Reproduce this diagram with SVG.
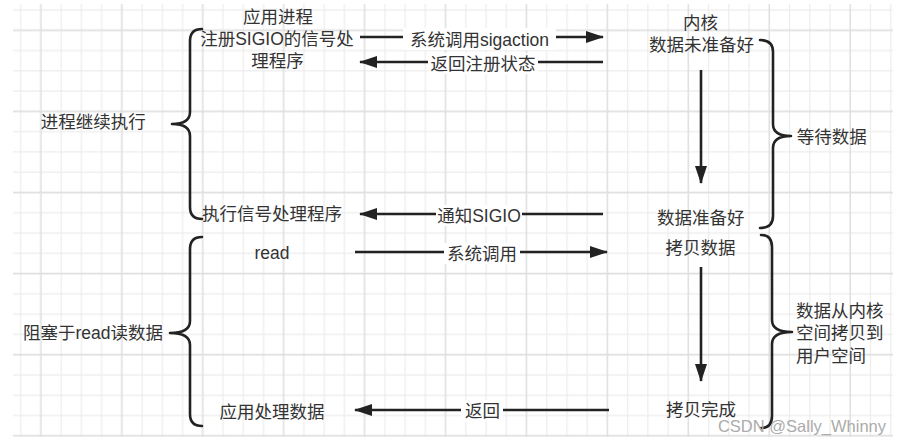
<svg xmlns="http://www.w3.org/2000/svg" width="902" height="444" viewBox="0 0 902 444">
<style>
  text { font-family: "Liberation Sans", "Noto Sans CJK SC", sans-serif; font-size: 17.5px; fill: #333; dominant-baseline: central; }
  .c { text-anchor: middle; }
  .l { text-anchor: start; }
  .brace { fill: none; stroke: #222; stroke-width: 2.6; stroke-linecap: round; stroke-linejoin: round; }
  .edge { fill: none; stroke: #222; stroke-width: 2.6; }
  .lblbg { fill: #fff; stroke: none; }
  .minor { stroke: #ececec; stroke-width: 1.2; }
  .major { stroke: #dfdfdf; stroke-width: 1.6; }
  .wm { font-size: 16.5px; fill: #ababab; text-anchor: end; dominant-baseline: auto; }
</style>
<defs>
  <pattern id="grid" patternUnits="userSpaceOnUse" x="10.7" y="0" width="80.93" height="81.1">
    <line class="minor" x1="10" y1="0" x2="10" y2="81.1"/>
    <line class="minor" x1="50.47" y1="0" x2="50.47" y2="81.1"/>
    <line class="minor" x1="70.7" y1="0" x2="70.7" y2="81.1"/>
    <line class="minor" x1="0" y1="10" x2="80.93" y2="10"/>
    <line class="minor" x1="0" y1="50.55" x2="80.93" y2="50.55"/>
    <line class="minor" x1="0" y1="70.82" x2="80.93" y2="70.82"/>
    <line class="major" x1="30.23" y1="0" x2="30.23" y2="81.1"/>
    <line class="major" x1="0" y1="30.27" x2="80.93" y2="30.27"/>
  </pattern>
  <marker id="arrow" markerUnits="userSpaceOnUse" markerWidth="18" markerHeight="12" refX="17" refY="6" orient="auto">
    <path d="M0,0 L18,6 L0,12 Z" fill="#222"/>
  </marker>
</defs>
<rect x="0" y="0" width="902" height="444" fill="#fff"/>
<rect x="13" y="4" width="880" height="433" fill="url(#grid)"/>

<g id="connectors">
  <line class="edge" x1="360" y1="37" x2="603" y2="37" marker-end="url(#arrow)"/>
  <line class="edge" x1="603" y1="62" x2="360" y2="62" marker-end="url(#arrow)"/>
  <line class="edge" x1="603" y1="214" x2="360" y2="214" marker-end="url(#arrow)"/>
  <line class="edge" x1="355" y1="252" x2="607" y2="252" marker-end="url(#arrow)"/>
  <line class="edge" x1="609" y1="410" x2="355" y2="410" marker-end="url(#arrow)"/>
  <line class="edge" x1="701" y1="70" x2="701" y2="183" marker-end="url(#arrow)"/>
  <line class="edge" x1="701" y1="267" x2="701" y2="381" marker-end="url(#arrow)"/>
  <g id="edge-labels">
    <rect class="lblbg" x="403" y="28" width="153" height="22"/>
    <text class="c" x="479.5" y="40">系统调用sigaction</text>
    <rect class="lblbg" x="428" y="53" width="110" height="21"/>
    <text class="c" x="483" y="63.5">返回注册状态</text>
    <rect class="lblbg" x="436" y="205" width="86" height="21"/>
    <text class="c" x="479" y="216">通知SIGIO</text>
    <rect class="lblbg" x="444" y="243" width="76" height="21"/>
    <text class="c" x="482" y="253.5">系统调用</text>
    <rect class="lblbg" x="461" y="400" width="42" height="21"/>
    <text class="c" x="482.5" y="411">返回</text>
  </g>
</g>

<g id="brace-left-1"><path class="brace" d="M202,29 Q190,29 190,41 L190,112 Q190,124 172,124 Q190,124 190,136 L190,207 Q190,219 202,219"/></g>
<g id="brace-left-2"><path class="brace" d="M202,237 Q190,237 190,249 L190,321 Q190,333 170,333 Q190,333 190,345 L190,414 Q190,426 202,426"/></g>
<g id="brace-right-1"><path class="brace" d="M760,40 Q773,40 773,52 L773,124 Q773,136 791,136 Q773,136 773,148 L773,216 Q773,228 760,228"/></g>
<g id="brace-right-2"><path class="brace" d="M761,235 Q772,235 772,247 L772,320 Q772,332 792,332 Q772,332 772,344 L772,416 Q772,428 761,428"/></g>

<g id="app-register">
  <text class="c" x="278" y="16.5">应用进程</text>
  <text class="c" x="277" y="39">注册SIGIO的信号处</text>
  <text class="c" x="277.5" y="60.5">理程序</text>
</g>
<g id="continue"><text class="c" x="93.3" y="122">进程继续执行</text></g>
<g id="exec-handler"><text class="c" x="272" y="214">执行信号处理程序</text></g>
<g id="kernel-notready">
  <text class="c" x="700.5" y="23">内核</text>
  <text class="c" x="701.5" y="44.5">数据未准备好</text>
</g>
<g id="data-ready"><text class="c" x="700.7" y="218">数据准备好</text></g>
<g id="wait-data"><text class="c" x="831.7" y="136.7">等待数据</text></g>
<g id="read"><text class="c" x="272" y="253">read</text></g>
<g id="copy-data"><text class="c" x="700.5" y="248">拷贝数据</text></g>
<g id="copy-done"><text class="c" x="701" y="410">拷贝完成</text></g>
<g id="app-process"><text class="c" x="272" y="411.5">应用处理数据</text></g>
<g id="blocked"><text class="c" x="93" y="333.3">阻塞于read读数据</text></g>
<g id="copy-kernel-user">
  <text class="l" x="796" y="310.7">数据从内核</text>
  <text class="l" x="796" y="333.3">空间拷贝到</text>
  <text class="l" x="796" y="355.5">用户空间</text>
</g>
<text class="wm" x="886" y="432">CSDN @Sally_Whinny</text>
</svg>
